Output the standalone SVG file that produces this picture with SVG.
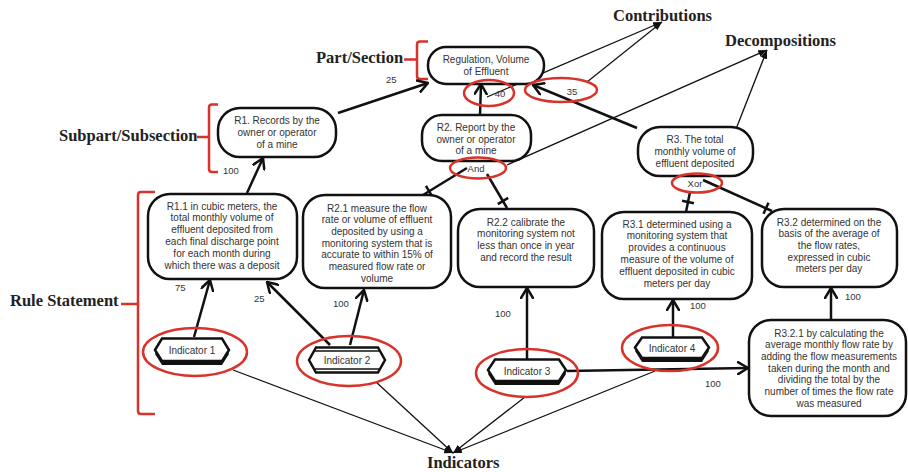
<svg xmlns="http://www.w3.org/2000/svg" width="908" height="472" viewBox="0 0 908 472">
<defs>
<marker id="open" viewBox="0 0 12 14" refX="11" refY="7" markerWidth="12" markerHeight="14" markerUnits="userSpaceOnUse" orient="auto">
<path d="M1,1 L11,7 L1,13" fill="none" stroke="#111" stroke-width="2.5" stroke-linecap="round" stroke-linejoin="round"/>
</marker>
<marker id="fill" viewBox="0 0 10 8" refX="10" refY="4" markerWidth="9" markerHeight="7" markerUnits="userSpaceOnUse" orient="auto">
<path d="M0,0 L10,4 L0,8 z" fill="#111"/>
</marker>
</defs>
<style>
.node rect{fill:#fff;stroke:#111;stroke-width:2.5}
.node text,.ind text{font-family:"Liberation Sans",Arial,sans-serif;font-size:10px;fill:#333;text-anchor:middle}
.hex{fill:#fff;stroke:#111;stroke-width:2.5;stroke-linejoin:miter}
.shadow{fill:#111}
.red{fill:none;stroke:#d7332a;stroke-width:2.5}
.thick{fill:none;stroke:#111;stroke-width:2.5}
.arr{marker-end:url(#open)}
.thin{fill:none;stroke:#111;stroke-width:1.3;marker-end:url(#fill)}
.num{font-family:"Liberation Sans",Arial,sans-serif;font-size:9.5px;fill:#333}
.lbl{font-family:"Liberation Serif","Times New Roman",serif;font-size:16.5px;font-weight:bold;fill:#222}
</style>

<!-- labels and brackets -->
<g id="labels">
<text class="lbl" x="316" y="63">Part/Section</text>
<text class="lbl" x="59" y="141">Subpart/Subsection</text>
<text class="lbl" x="10" y="306">Rule Statement</text>
<text class="lbl" x="613" y="21">Contributions</text>
<text class="lbl" x="725" y="46">Decompositions</text>
<text class="lbl" x="427" y="468">Indicators</text>
<path class="red" d="M404,59.5 H416.5 M428,41.5 H420 Q417,41.5 417,44.5 V76 Q417,79 420,79 H428"/>
<path class="red" d="M197,137 H209 M218,104.5 H212 Q209,104.5 209,107.5 V169 Q209,172 212,172 H218"/>
<path class="red" d="M121,304 H137 M155,192 H141 Q138,192 138,195 V411 Q138,414 141,414 H155"/>
</g>

<!-- connectors -->
<g id="connectors">
<line class="thick arr" x1="338" y1="113" x2="428" y2="83"/>
<line class="thick arr" x1="480" y1="115" x2="481" y2="84"/>
<line class="thick arr" x1="637" y1="128" x2="533" y2="85"/>
<line class="thick arr" x1="247" y1="193" x2="263" y2="158"/>
<line class="thick arr" x1="194" y1="337" x2="210" y2="280"/>
<line class="thick arr" x1="330" y1="345" x2="267" y2="282"/>
<line class="thick arr" x1="350" y1="345" x2="364" y2="290"/>
<line class="thick arr" x1="527" y1="359" x2="527" y2="288"/>
<line class="thick arr" x1="673" y1="337" x2="673" y2="300"/>
<line class="thick arr" x1="567" y1="371" x2="748" y2="368"/>
<line class="thick arr" x1="831" y1="320" x2="831" y2="288"/>
<!-- decompositions with ticks -->
<line class="thick" x1="467" y1="168" x2="423" y2="195"/>
<line class="thick" x1="425.9" y1="185.9" x2="432.1" y2="196.1"/>
<line class="thick" x1="487" y1="174" x2="507" y2="208"/>
<line class="thick" x1="497.8" y1="204.1" x2="508.2" y2="197.9"/>
<line class="thick" x1="690" y1="192" x2="686" y2="212"/>
<line class="thick" x1="682.1" y1="200.8" x2="693.9" y2="203.2"/>
<line class="thick" x1="703" y1="180" x2="772" y2="211"/>
<line class="thick" x1="763.5" y1="213.8" x2="768.5" y2="202.8"/>
<!-- thin annotation arrows -->
<line class="thin" x1="487" y1="97" x2="662" y2="22"/>
<line class="thin" x1="587" y1="82" x2="662" y2="22"/>
<line class="thin" x1="507" y1="165" x2="767" y2="50"/>
<line class="thin" x1="718" y1="175" x2="767" y2="50"/>
<line class="thin" x1="233" y1="370" x2="453" y2="453"/>
<line class="thin" x1="376" y1="382" x2="453" y2="453"/>
<line class="thin" x1="525" y1="397" x2="453" y2="453"/>
<line class="thin" x1="655" y1="371" x2="453" y2="453"/>
</g>

<!-- nodes -->
<g id="reg" class="node">
<rect x="428" y="47" width="116" height="37" rx="18"/>
<text x="486" y="62.5">Regulation, Volume</text>
<text x="486" y="74.5">of Effluent</text>
</g>
<g id="r1" class="node">
<rect x="218" y="108" width="118" height="49" rx="22"/>
<text x="277" y="123.5">R1. Records by the</text>
<text x="277" y="135.5">owner or operator</text>
<text x="277" y="147.5">of a mine</text>
</g>
<g id="r2" class="node">
<rect x="422" y="115" width="109" height="46" rx="20"/>
<text x="476" y="130.5">R2. Report by the</text>
<text x="476" y="142.5">owner or operator</text>
<text x="476" y="153.5">of a mine</text>
</g>
<g id="r3" class="node">
<rect x="638" y="127" width="115" height="49" rx="22"/>
<text x="695" y="142.5">R3. The total</text>
<text x="695" y="154.5">monthly volume of</text>
<text x="695" y="166.5">effluent deposited</text>
</g>
<g id="r1_1" class="node">
<rect x="148" y="194" width="149" height="85" rx="22"/>
<text x="222" y="209.5">R1.1 in cubic meters, the</text>
<text x="222" y="221.3">total monthly volume of</text>
<text x="222" y="233.1">effluent deposited from</text>
<text x="222" y="244.9">each final discharge point</text>
<text x="222" y="256.7">for each month during</text>
<text x="222" y="268.5">which there was a deposit</text>
</g>
<g id="r2_1" class="node">
<rect x="303" y="195" width="148" height="93" rx="22"/>
<text x="377" y="211.5">R2.1 measure the flow</text>
<text x="377" y="223.2">rate or volume of effluent</text>
<text x="377" y="234.9">deposited by using a</text>
<text x="377" y="246.6">monitoring system that is</text>
<text x="377" y="258.3">accurate to within 15% of</text>
<text x="377" y="270">measured flow rate or</text>
<text x="377" y="281.7">volume</text>
</g>
<g id="r2_2" class="node">
<rect x="458" y="209" width="136" height="78" rx="22"/>
<text x="526" y="225.5">R2.2 calibrate the</text>
<text x="526" y="237.2">monitoring system not</text>
<text x="526" y="248.9">less than once in year</text>
<text x="526" y="260.6">and record the result</text>
</g>
<g id="r3_1" class="node">
<rect x="602" y="212" width="150" height="87" rx="22"/>
<text x="677" y="227.5">R3.1 determined using a</text>
<text x="677" y="239.3">monitoring system that</text>
<text x="677" y="251.1">provides a continuous</text>
<text x="677" y="262.9">measure of the volume of</text>
<text x="677" y="274.7">effluent deposited in cubic</text>
<text x="677" y="286.5">meters per day</text>
</g>
<g id="r3_2" class="node">
<rect x="762" y="209" width="135" height="78" rx="22"/>
<text x="829" y="225.5">R3.2 determined on the</text>
<text x="829" y="237.2">basis of the average of</text>
<text x="829" y="248.9">the flow rates,</text>
<text x="829" y="260.6">expressed in cubic</text>
<text x="829" y="272.3">meters per day</text>
</g>
<g id="r3_2_1" class="node">
<rect x="749" y="320" width="157" height="96" rx="22"/>
<text x="829" y="336.5">R3.2.1 by calculating the</text>
<text x="829" y="348.2">average monthly flow rate by</text>
<text x="829" y="359.9">adding the flow measurements</text>
<text x="829" y="371.6">taken during the month and</text>
<text x="829" y="383.3">dividing the total by the</text>
<text x="829" y="395">number of times the flow rate</text>
<text x="829" y="406.7">was measured</text>
</g>

<!-- indicators -->
<g id="ind1" class="ind">
<polygon class="shadow" points="155,354 162,342 222,342 229,354 222,365 162,365"/>
<polygon class="hex" points="155,350 162,338.5 222,338.5 229,350 222,361 162,361"/>
<text x="192" y="354">Indicator 1</text>
</g>
<g id="ind2" class="ind">
<polygon class="hex" points="309,360 316,347.5 378,347.5 385,360 378,372.5 316,372.5" stroke-width="2"/>
<line x1="315" y1="351" x2="379" y2="351" stroke="#111" stroke-width="1.5"/>
<line x1="315" y1="369" x2="379" y2="369" stroke="#111" stroke-width="1.5"/>
<text x="347" y="363.5">Indicator 2</text>
</g>
<g id="ind3" class="ind">
<polygon class="shadow" points="488,374 495,362 559,362 566,374 559,385 495,385"/>
<polygon class="hex" points="488,370 495,359.5 559,359.5 566,370 559,381 495,381"/>
<text x="527" y="374.5">Indicator 3</text>
</g>
<g id="ind4" class="ind">
<polygon class="shadow" points="635,351 642,340 702,340 709,351 702,362 642,362"/>
<polygon class="hex" points="635,347.5 642,337.5 702,337.5 709,347.5 702,358 642,358"/>
<text x="672" y="351.5">Indicator 4</text>
</g>

<!-- red highlight ellipses and operators -->
<g id="highlights">
<ellipse class="red" cx="195" cy="352" rx="52" ry="24"/>
<ellipse class="red" cx="349" cy="361" rx="52" ry="25"/>
<ellipse class="red" cx="527" cy="373" rx="51" ry="24"/>
<ellipse class="red" cx="670" cy="348" rx="48" ry="23"/>
<ellipse class="red" cx="489" cy="93" rx="25" ry="13"/>
<ellipse class="red" cx="561" cy="90" rx="36" ry="12"/>
</g>
<g id="and">
<ellipse class="red" cx="478" cy="168" rx="28" ry="10.5"/>
<text class="num" x="476" y="171.5" text-anchor="middle" font-size="10">And</text>
</g>
<g id="xor">
<ellipse class="red" cx="697" cy="183" rx="25" ry="9.5"/>
<text class="num" x="695" y="186.5" text-anchor="middle" font-size="10">Xor</text>
</g>

<!-- numbers -->
<g id="numbers">
<text class="num" x="386" y="83">25</text>
<text class="num" x="223" y="173.5">100</text>
<text class="num" x="500" y="96.5" text-anchor="middle">40</text>
<text class="num" x="572" y="94.5" text-anchor="middle">35</text>
<text class="num" x="175" y="290.5">75</text>
<text class="num" x="254" y="301.5">25</text>
<text class="num" x="333" y="306.5">100</text>
<text class="num" x="495" y="316.5">100</text>
<text class="num" x="690" y="308.5">100</text>
<text class="num" x="845" y="299.5">100</text>
<text class="num" x="705" y="386.5">100</text>
</g>
</svg>
